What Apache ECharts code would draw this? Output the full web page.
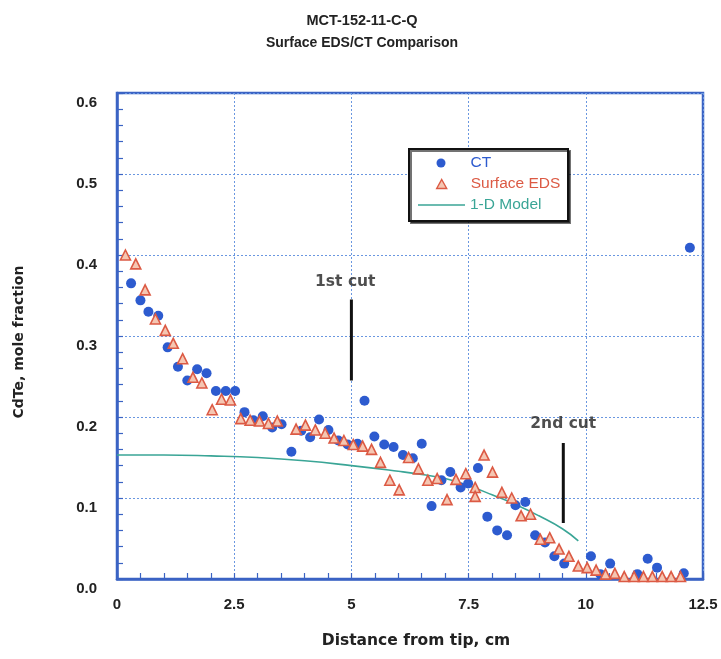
<!DOCTYPE html>
<html>
<head>
<meta charset="utf-8">
<script src="https://cdn.jsdelivr.net/npm/echarts@6/dist/echarts.min.js"></script>
<style>
html,body{margin:0;padding:0;background:#fff;}
#chart{width:721px;height:659px;}
</style>
</head>
<body>
<div id="chart"></div>
<script>
// ---- data ----
var titleLines = ['MCT-152-11-C-Q', 'Surface EDS/CT Comparison'];
var xTicks = [0, 2.5, 5, 7.5, 10, 12.5];
var yTicks = [0, 0.1, 0.2, 0.3, 0.4, 0.5, 0.6];

var ctPoints = [
  [0.30,0.365],[0.50,0.344],[0.67,0.330],[0.88,0.325],[1.08,0.286],[1.30,0.262],
  [1.50,0.245],[1.71,0.259],[1.91,0.254],[2.11,0.232],[2.32,0.232],[2.52,0.232],
  [2.72,0.206],[2.91,0.196],[3.11,0.201],[3.31,0.187],[3.51,0.191],[3.72,0.157],
  [3.93,0.183],[4.12,0.175],[4.31,0.197],[4.51,0.184],[4.72,0.171],[4.92,0.166],
  [5.13,0.167],[5.28,0.220],[5.49,0.176],[5.70,0.166],[5.90,0.163],[6.10,0.153],
  [6.31,0.149],[6.50,0.167],[6.71,0.090],[6.92,0.122],[7.11,0.132],[7.33,0.113],
  [7.49,0.118],[7.70,0.137],[7.90,0.077],[8.11,0.060],[8.32,0.054],[8.50,0.091],
  [8.71,0.095],[8.92,0.054],[9.13,0.045],[9.33,0.028],[9.54,0.019],[10.11,0.028],
  [10.31,0.006],[10.52,0.019],[11.10,0.006],[11.32,0.025],[11.52,0.014],[12.09,0.007],
  [12.22,0.409]
];

var edsPoints = [
  [0.18,0.400],[0.40,0.389],[0.60,0.357],[0.82,0.321],[1.03,0.307],[1.20,0.291],
  [1.40,0.272],[1.62,0.249],[1.81,0.242],[2.03,0.209],[2.23,0.222],[2.42,0.221],
  [2.64,0.198],[2.84,0.196],[3.04,0.195],[3.23,0.192],[3.42,0.195],[3.82,0.185],
  [4.02,0.190],[4.23,0.184],[4.44,0.180],[4.63,0.174],[4.84,0.171],[5.04,0.166],
  [5.24,0.164],[5.43,0.160],[5.62,0.144],[5.82,0.122],[6.02,0.110],[6.22,0.150],
  [6.43,0.136],[6.63,0.122],[6.83,0.124],[7.04,0.098],[7.23,0.123],[7.44,0.130],
  [7.64,0.113],[7.64,0.102],[7.83,0.153],[8.01,0.132],[8.21,0.107],[8.42,0.100],
  [8.62,0.078],[8.82,0.080],[9.03,0.049],[9.23,0.051],[9.43,0.037],[9.64,0.028],
  [9.84,0.016],[10.03,0.014],[10.22,0.011],[10.42,0.006],[10.62,0.007],[10.82,0.003],
  [11.03,0.003],[11.23,0.003],[11.42,0.003],[11.63,0.003],[11.82,0.003],[12.02,0.003]
];

var modelPoints = [
  [0,0.153],[1,0.153],[2,0.152],[3,0.150],[4,0.146],[5,0.140],[6,0.133],
  [6.5,0.129],[7,0.124],[7.5,0.115],[8,0.104],[8.5,0.092],[9,0.078],[9.5,0.062],[9.84,0.047]
];

var cut1Line = [[5,0.245],[5,0.345]];
var cut2Line = [[9.52,0.069],[9.52,0.168]];
var cutLabels = [
  {name:'1st cut', value:[4.87,0.367]},
  {name:'2nd cut', value:[9.52,0.191]}
];

var seriesNames = ['CT', 'Surface EDS', '1-D Model'];

// ---- chart ----
var FONT = '"Liberation Sans", Arial, sans-serif';
var WIDE = '"DejaVu Sans", "Liberation Sans", sans-serif';
var AXIS_BLUE = '#3b63c4';
var GRID_BLUE = '#6a97e0';
var CT_BLUE = '#2d5bcf';
var EDS_RED = '#dc5a44';
var EDS_FILL = '#f5c6b2';
var MODEL_TEAL = '#3aa596';

var chart = echarts.init(document.getElementById('chart'), null, {renderer:'canvas'});

function legendFor(name, icon, left, top, w, h, color, textPad) {
  return {
    orient: 'vertical', left: left, top: top, padding: 0, z: 30,
    itemWidth: w, itemHeight: h, selectedMode: false,
    icon: icon,
    textStyle: {fontFamily: FONT, fontSize: 15.5, lineHeight: 17, color: color, padding: [0,0,0,textPad]},
    data: [{name: name, icon: icon, itemStyle: icon === 'triangle' ? {color: EDS_FILL, borderColor: EDS_RED, borderWidth: 1.4} : {color: color, borderWidth: 0}}]
  };
}

var option = {
  backgroundColor: '#ffffff',
  animation: false,
  title: {
    text: '{a|' + titleLines[0] + '}\n{b|' + titleLines[1] + '}',
    left: 357,
    top: 4,
    textAlign: 'center',
    textStyle: {
      rich: {
        a: {fontFamily: FONT, fontSize: 14.5, fontWeight: 'bold', color: '#222', lineHeight: 23, align: 'center'},
        b: {fontFamily: FONT, fontSize: 14, fontWeight: 'bold', color: '#222', lineHeight: 23, align: 'center'}
      }
    }
  },
  grid: {
    left: 117, right: 18, top: 93, bottom: 80,
    outerBoundsMode: 'none', containLabel: false,
    show: true, borderColor: AXIS_BLUE, borderWidth: 2.5, backgroundColor: 'transparent'
  },
  graphic: [
    {type: 'rect', left: 408, top: 148, z: 10,
      shape: {width: 159, height: 72},
      style: {fill: '#fff', stroke: '#111', lineWidth: 2,
        shadowColor: 'rgba(0,0,0,0.55)', shadowOffsetX: 2, shadowOffsetY: 2, shadowBlur: 0}}
  ],
  legend: [
    legendFor(seriesNames[0], 'circle', 436.5, 154.5, 9, 9, CT_BLUE, 20),
    legendFor(seriesNames[1], 'triangle', 436, 175.5, 10, 9, EDS_RED, 19),
    legendFor(seriesNames[2], 'rect', 418, 196.5, 47, 1.5, MODEL_TEAL, 0)
  ],
  xAxis: {
    type: 'value', min: xTicks[0], max: xTicks[xTicks.length-1], interval: 2.5,
    name: 'Distance from tip, cm', nameLocation: 'middle', nameGap: 54,
    nameTextStyle: {fontFamily: WIDE, fontSize: 15.5, fontWeight: 'bold', color: '#222', padding: [0,0,0,12]},
    axisLine: {show: true, lineStyle: {color: AXIS_BLUE, width: 2.5}},
    axisTick: {show: true, inside: true, length: 6, lineStyle: {color: AXIS_BLUE, width: 1.2}},
    minorTick: {show: true, splitNumber: 5, length: 6, lineStyle: {color: AXIS_BLUE, width: 1.2}},
    axisLabel: {fontFamily: FONT, fontSize: 15, fontWeight: 'bold', color: '#222', margin: 18,
      formatter: function(v){ return String(v); }},
    splitLine: {show: true, lineStyle: {color: GRID_BLUE, type: [2,2], width: 1}}
  },
  yAxis: {
    type: 'value', min: yTicks[0], max: yTicks[yTicks.length-1], interval: 0.1,
    name: 'CdTe, mole fraction', nameLocation: 'middle', nameGap: 91, nameRotate: 90,
    nameTextStyle: {fontFamily: WIDE, fontSize: 14, fontWeight: 'bold', color: '#222', padding: [0,12,0,0]},
    axisLine: {show: true, lineStyle: {color: AXIS_BLUE, width: 2.5}},
    axisTick: {show: true, inside: true, length: 6, lineStyle: {color: AXIS_BLUE, width: 1.2}},
    minorTick: {show: true, splitNumber: 5, length: 6, lineStyle: {color: AXIS_BLUE, width: 1.2}},
    axisLabel: {fontFamily: FONT, fontSize: 15, fontWeight: 'bold', color: '#222', margin: 20,
      verticalAlign: 'top', lineHeight: 20,
      formatter: function(v){ return v.toFixed(1); }},
    splitLine: {show: true, lineStyle: {color: GRID_BLUE, type: [2,2], width: 1}}
  },
  series: [
    {
      name: seriesNames[0], type: 'scatter', data: ctPoints,
      symbol: 'circle', symbolSize: 10,
      itemStyle: {color: CT_BLUE, opacity: 1}, z: 4
    },
    {
      name: seriesNames[1], type: 'scatter', data: edsPoints,
      symbol: 'triangle', symbolSize: 10,
      itemStyle: {color: EDS_FILL, borderColor: EDS_RED, borderWidth: 1.6, opacity: 1}, z: 5
    },
    {
      name: seriesNames[2], type: 'line', data: modelPoints,
      symbol: 'none', smooth: true,
      lineStyle: {color: MODEL_TEAL, width: 1.6}, itemStyle: {color: MODEL_TEAL}, z: 3
    },
    {
      name: 'cut1', type: 'line', data: cut1Line, symbol: 'none',
      lineStyle: {color: '#111', width: 3}, z: 6, silent: true
    },
    {
      name: 'cut2', type: 'line', data: cut2Line, symbol: 'none',
      lineStyle: {color: '#111', width: 3}, z: 6, silent: true
    },
    {
      name: 'cutText', type: 'scatter', data: cutLabels, symbolSize: 0, silent: true,
      label: {show: true, position: 'inside', formatter: '{b}',
        fontFamily: WIDE, fontSize: 15.5, fontWeight: 'bold', color: '#222'}
    }
  ]
};
chart.setOption(option);
</script>
</body>
</html>
